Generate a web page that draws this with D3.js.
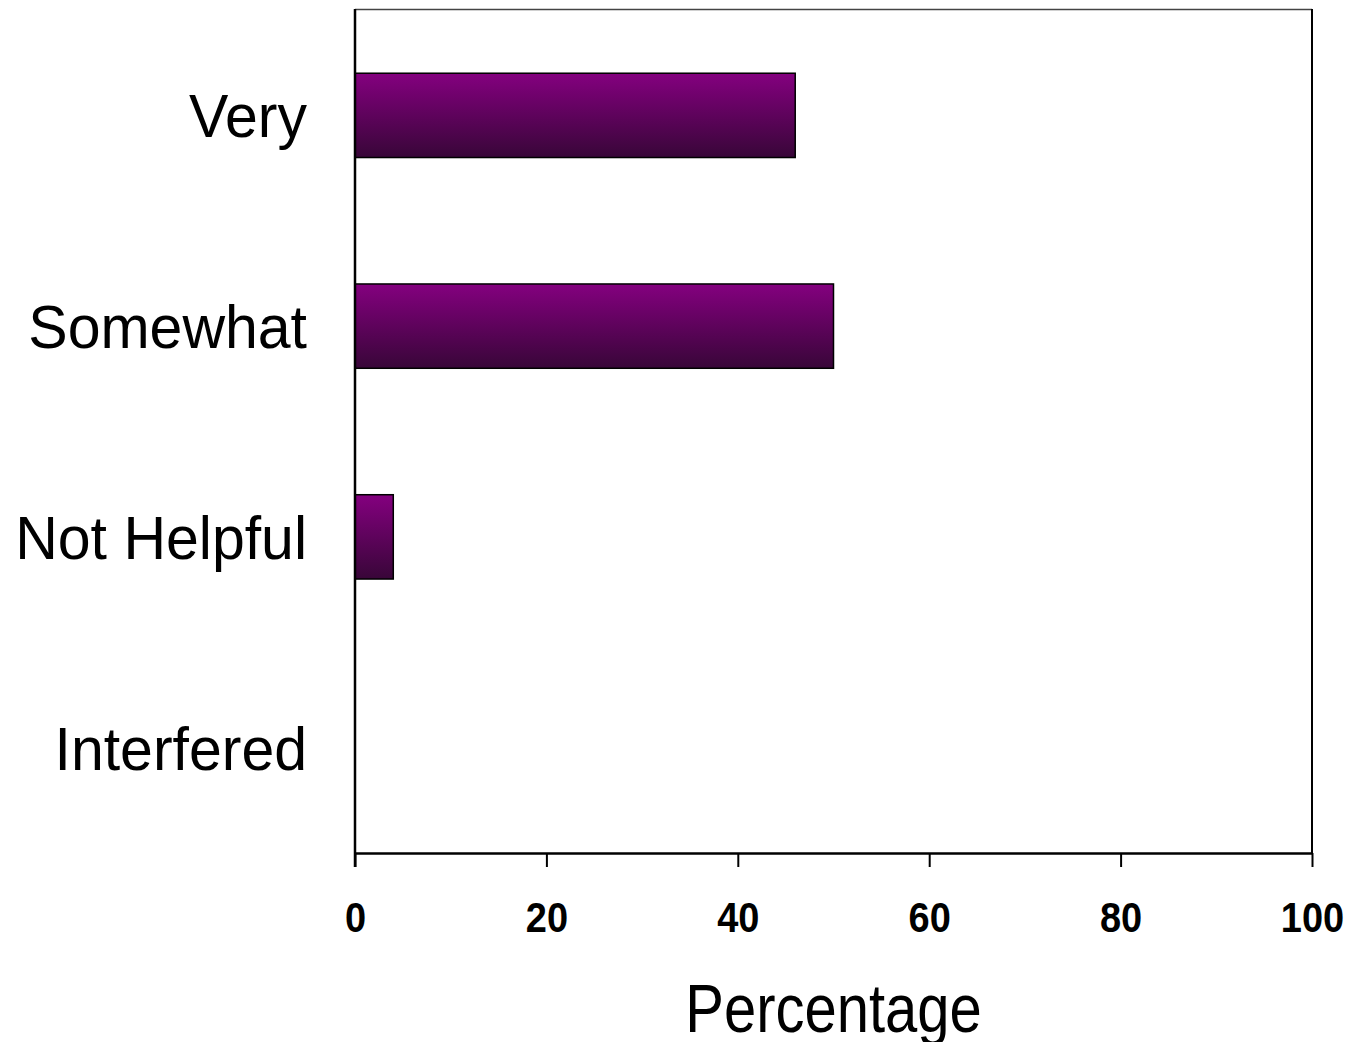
<!DOCTYPE html>
<html>
<head>
<meta charset="utf-8">
<script src="https://cdn.jsdelivr.net/npm/d3@7"></script>
<style>
  html, body { margin: 0; padding: 0; background: #fff; }
  svg { display: block; }
  text { font-family: "Liberation Sans", Arial, sans-serif; fill: #000; }
</style>
</head>
<body>
<svg id="chart" width="1352" height="1042"></svg>
<script>
const categories = ["Very", "Somewhat", "Not Helpful", "Interfered"];
const values = [46, 50, 4, 0];
const xTicks = [0, 20, 40, 60, 80, 100];
const xLabel = "Percentage";

const svg = d3.select("#chart");
const mLeft = 355, mRight = 1312, mTop = 10, mBottom = 853;

const x = d3.scaleLinear().domain([0, 100]).range([mLeft, mRight]);
const y = d3.scaleBand().domain(categories).range([mTop, mBottom]).paddingInner(0.6).paddingOuter(0.3);

const defs = svg.append("defs");
const grad = defs.append("linearGradient").attr("id", "barGrad")
  .attr("x1", 0).attr("y1", 0).attr("x2", 0).attr("y2", 1);
grad.append("stop").attr("offset", "0%").attr("stop-color", "#84007f");
grad.append("stop").attr("offset", "100%").attr("stop-color", "#380638");

// frame: top (gray) and right
svg.append("line").attr("x1", mLeft).attr("x2", mRight).attr("y1", mTop - 0.5).attr("y2", mTop - 0.5)
  .attr("stroke", "#444").attr("stroke-width", 1.5);
svg.append("line").attr("x1", mRight).attr("x2", mRight).attr("y1", mTop - 1).attr("y2", mBottom)
  .attr("stroke", "#000").attr("stroke-width", 2);

// bars
const data = categories.map((c, i) => ({ c, v: values[i] }));
svg.append("g").selectAll("rect").data(data.filter(d => d.v > 0)).join("rect")
  .attr("x", x(0))
  .attr("y", d => y(d.c))
  .attr("width", d => x(d.v) - x(0))
  .attr("height", y.bandwidth())
  .attr("fill", "url(#barGrad)")
  .attr("stroke", "#000")
  .attr("stroke-width", 1.5);

// x axis
const xAxis = d3.axisBottom(x).tickValues(xTicks).tickSize(14).tickSizeOuter(0).tickFormat(d3.format("d"));
const gx = svg.append("g").attr("transform", `translate(0,${mBottom})`).call(xAxis);
gx.select(".domain").attr("stroke", "#000").attr("stroke-width", 2.5);
gx.selectAll(".tick line").attr("stroke", "#000").attr("stroke-width", 2);
gx.selectAll(".tick text")
  .attr("y", 0).attr("dy", null)
  .attr("transform", "translate(0,79) scale(1,1.1)")
  .style("font-size", "38px").style("font-weight", "bold")
  .style("font-family", '"Liberation Sans", Arial, sans-serif').attr("fill", "#000");

// y axis line
svg.append("line").attr("x1", mLeft).attr("x2", mLeft).attr("y1", mTop - 1).attr("y2", mBottom + 14)
  .attr("stroke", "#000").attr("stroke-width", 2.5);

// category labels
svg.append("g").selectAll("text").data(categories).join("text")
  .attr("text-anchor", "end")
  .attr("transform", d => `translate(307,${y(d) + y.bandwidth() / 2 + 22}) scale(1,1.03)`)
  .style("font-size", "59px")
  .text(d => d);

// x label
svg.append("text")
  .attr("text-anchor", "middle")
  .attr("transform", `translate(${(mLeft + mRight) / 2},1032) scale(1,1.18)`)
  .style("font-size", "58px")
  .text(xLabel);
</script>
</body>
</html>
